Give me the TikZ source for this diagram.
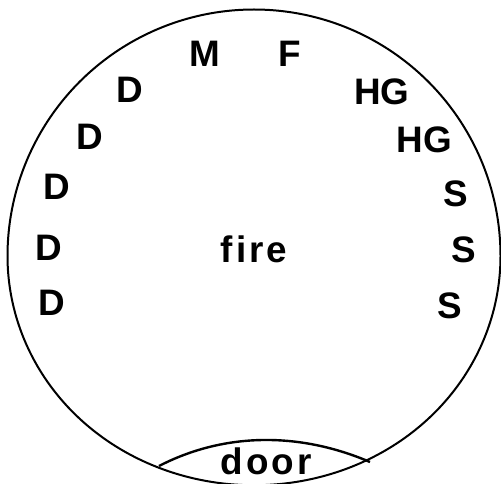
\documentclass[tikz,border=0pt]{standalone}
\usepackage{fontspec}
\setmainfont{Liberation Sans}
\newfontfamily\lblfont{Liberation Sans Bold}
\newfontfamily\wordfont[LetterSpace=8]{Liberation Sans Bold}
\begin{document}
\begin{tikzpicture}[x=1bp,y=-1bp,
  lbl/.style={font=\lblfont\fontsize{37}{40}\selectfont, inner sep=0pt, anchor=base},
  word/.style={font=\wordfont\fontsize{37}{40}\selectfont, inner sep=0pt, anchor=base},
  outline/.style={line width=2bp, black}]
\useasboundingbox (0,0) rectangle (501,484);
\clip (0,0) rectangle (501,484);
% room outline: a circle slightly flattened at the bottom
\draw[outline] plot[domain=0:360, samples=241, smooth cycle, variable=\t]
  ({254+246.5*(1-0.07*(max(0,-sin(\t)))^2)*cos(\t)},
   {256-246.5*(1-0.07*(max(0,-sin(\t)))^2)*sin(\t)});
% door
\coordinate (dl) at (159,466);
\coordinate (dr) at (370,462);
\draw[line width=2.4bp] (dl) .. controls (225,432) and (300,432) .. (dr);
% labels
\node[lbl] (m) at (205,67) {M};
\node[lbl] (f) at (290,67) {F};
\node[lbl] (d1) at (130,103) {D};
\node[lbl] (hg1) at (382,105) {HG};
\node[lbl] (d2) at (89.5,150) {D};
\node[lbl] (hg2) at (424.5,153) {HG};
\node[lbl] (d3) at (56.5,200) {D};
\node[lbl] (s1) at (456,206) {S};
\node[lbl] (d4) at (48.5,260) {D};
\node[lbl] (s2) at (463.5,262) {S};
\node[lbl] (d5) at (51.5,315) {D};
\node[lbl] (s3) at (449.5,318) {S};
\node[word] (fire) at (254,262) {fire};
\node[word] (door) at (266,474) {door};
\end{tikzpicture}
\end{document}
